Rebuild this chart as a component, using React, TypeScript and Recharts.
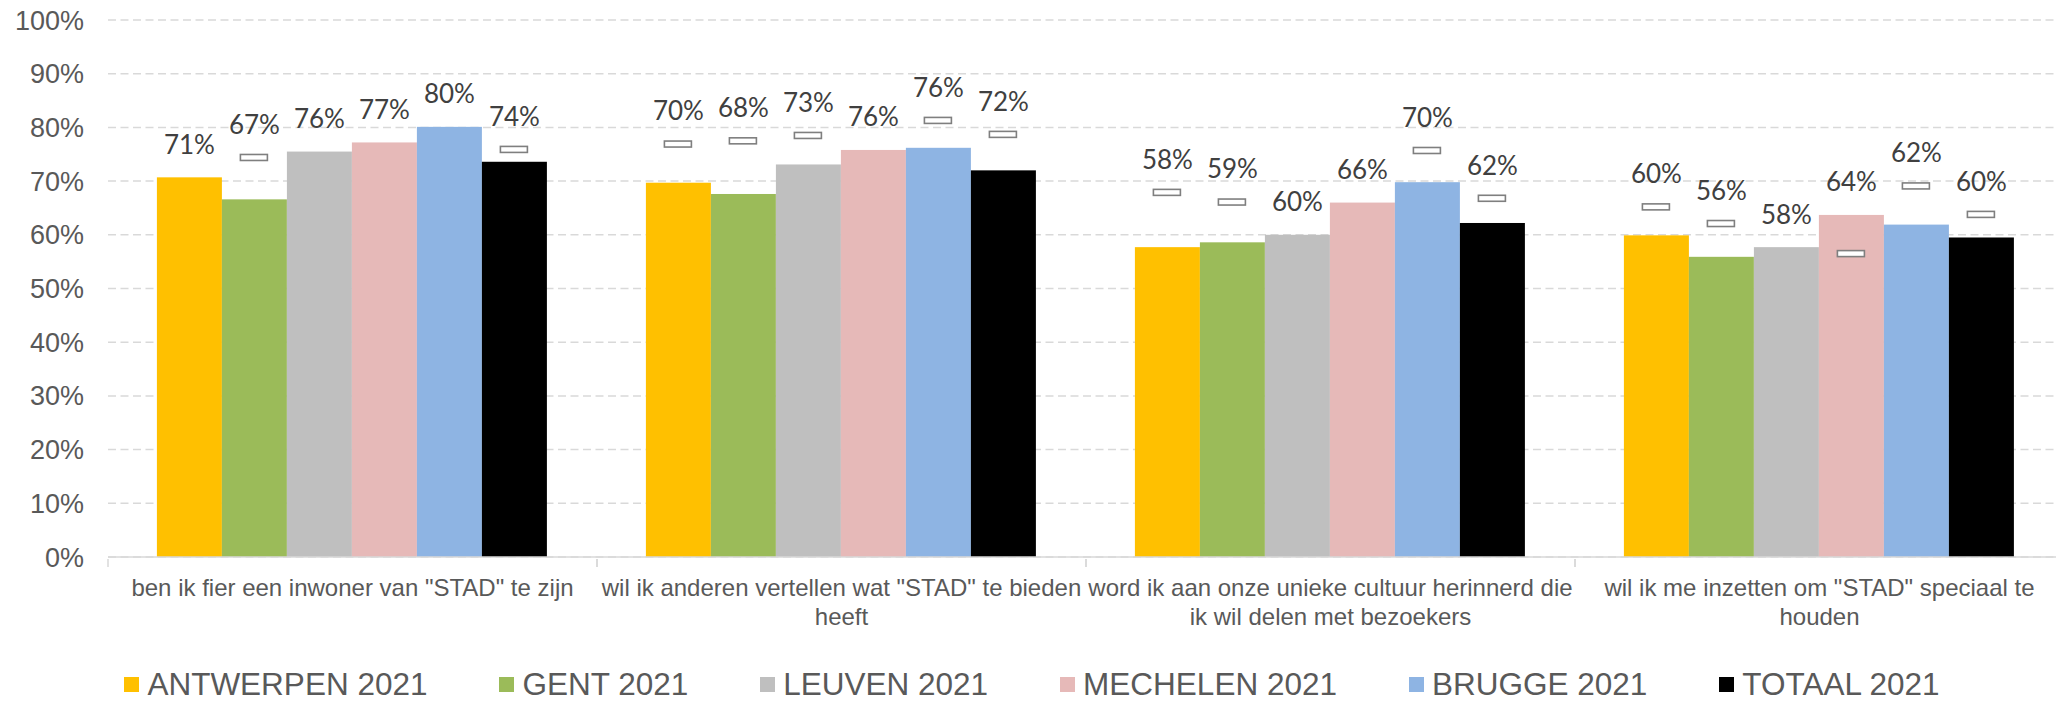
import React from 'react';
import { BarChart, Bar, XAxis, YAxis, CartesianGrid, Legend } from 'recharts';

const categories = [
  'ben ik fier een inwoner van "STAD" te zijn',
  'wil ik anderen vertellen wat "STAD" te bieden\nheeft',
  'word ik aan onze unieke cultuur herinnerd die\nik wil delen met bezoekers',
  'wil ik me inzetten om "STAD" speciaal te\nhouden',
];

// 2021 scores (%)
const antwerpen = [70.7, 69.7, 57.7, 59.9];
const gent = [66.6, 67.6, 58.6, 55.9];
const leuven = [75.5, 73.1, 60.0, 57.7];
const mechelen = [77.2, 75.8, 66.0, 63.7];
const brugge = [80.1, 76.2, 69.8, 61.9];
const totaal = [73.6, 72.0, 62.2, 59.5];

// vorige meting (grijze streepjes), null = geen
const antwerpenPrev = [null, 76.9, 67.9, 65.2];
const gentPrev = [74.4, 77.5, 66.1, 62.1];
const leuvenPrev = [null, 78.5, null, null];
const mechelenPrev = [null, null, null, 56.5];
const bruggePrev = [null, 81.3, 75.7, 69.1];
const totaalPrev = [75.9, 78.7, 66.8, 63.8];

const yTicks = [0, 10, 20, 30, 40, 50, 60, 70, 80, 90, 100];

const series = [
  { key: 'antwerpen', name: 'ANTWERPEN 2021', color: '#FFC000', values: antwerpen, prev: antwerpenPrev },
  { key: 'gent', name: 'GENT 2021', color: '#9BBB59', values: gent, prev: gentPrev },
  { key: 'leuven', name: 'LEUVEN 2021', color: '#BFBFBF', values: leuven, prev: leuvenPrev },
  { key: 'mechelen', name: 'MECHELEN 2021', color: '#E6B9B8', values: mechelen, prev: mechelenPrev },
  { key: 'brugge', name: 'BRUGGE 2021', color: '#8EB4E3', values: brugge, prev: bruggePrev },
  { key: 'totaal', name: 'TOTAAL 2021', color: '#000000', values: totaal, prev: totaalPrev },
];

const rows = categories.map((name, i) => {
  const row: any = { name };
  series.forEach((s) => {
    row[s.key] = s.values[i];
    row[s.key + 'Prev'] = s.prev[i];
  });
  return row;
});

// bar + marker for previous value + data label
const makeShape = (key: string) => (props: any) => {
  const { x, y, width, height, fill, payload } = props;
  const v = payload[key];
  const prev = payload[key + 'Prev'];
  const base = y + height;
  const ppu = v ? height / v : 0;
  const prevY = prev != null ? base - prev * ppu : null;
  const top = prevY != null ? Math.min(y, prevY) : y;
  const cx = x + width / 2;
  return (
    <g>
      <rect x={x} y={y} width={width} height={height} fill={fill} />
      {prevY != null && (
        <rect x={cx - 14} y={prevY - 3} width={27} height={6} fill="#fff" stroke="#7F7F7F" strokeWidth={1.6} />
      )}
      <text x={cx} y={top - 33} dy="0.36em" textAnchor="middle" fontSize={26} fill="#404040" fontFamily="Lato">
        {Math.round(v)}%
      </text>
    </g>
  );
};

const CategoryTick = (props: any) => {
  const { x, y, payload } = props;
  const half = payload.offset ?? 0;
  const lines = String(payload.value).split('\n');
  return (
    <g>
      {half > 0 && (
        <>
          <line x1={x - half} x2={x - half} y1={y} y2={y + 8} stroke="#D9D9D9" strokeWidth={1.5} />
          <line x1={x + half} x2={x + half} y1={y} y2={y + 8} stroke="#D9D9D9" strokeWidth={1.5} />
        </>
      )}
      <text x={x} y={y + 37} textAnchor="middle" fontSize={24} fill="#595959">
        {lines.map((l, i) => (
          <tspan key={i} x={x} dy={i === 0 ? 0 : 29}>{l}</tspan>
        ))}
      </text>
    </g>
  );
};

const renderLegend = () => (
  <div
    style={{
      display: 'flex', justifyContent: 'center', alignItems: 'center',
      gap: 72, paddingTop: 10,
    }}
  >
    {series.map((s) => (
      <div key={s.key} style={{ display: 'flex', alignItems: 'center' }}>
        <span style={{ display: 'block', width: 15, height: 15, background: s.color, marginRight: 8 }} />
        <span style={{ display: 'block', fontSize: 31.5, color: '#595959', lineHeight: '28px' }}>{s.name}</span>
      </div>
    ))}
  </div>
);

export default function App() {
  return (
    <div
      style={{
        position: 'fixed', top: 0, left: 0, width: 2056, height: 704, overflow: 'hidden',
        background: '#fff', fontFamily: '"Liberation Sans", Arial, sans-serif',
      }}
    >
      <BarChart
        width={2100}
        height={704}
        data={rows}
        margin={{ top: 20, right: 36, bottom: 0, left: 0 }}
        barCategoryGap="10%"
        barGap={0}
      >
        <CartesianGrid vertical={false} stroke="#D9D9D9" strokeWidth={1.5} strokeDasharray="8 4.5" />
        <YAxis
          width={108}
          domain={[0, 100]}
          ticks={yTicks}
          tickFormatter={(v) => `${v}%`}
          axisLine={false}
          tickLine={false}
          tickSize={0}
          tickMargin={24}
          tick={{ fontSize: 27, fill: '#595959' }}
        />
        <XAxis
          dataKey="name"
          height={103}
          interval={0}
          axisLine={{ stroke: '#D9D9D9', strokeWidth: 1.5 }}
          tickLine={false}
          tickSize={0}
          tick={<CategoryTick />}
        />
        <Legend verticalAlign="bottom" height={44} content={renderLegend} />
        {series.map((s) => (
          <Bar
            key={s.key}
            dataKey={s.key}
            name={s.name}
            fill={s.color}
            isAnimationActive={false}
            shape={makeShape(s.key)}
          />
        ))}
      </BarChart>
    </div>
  );
}
